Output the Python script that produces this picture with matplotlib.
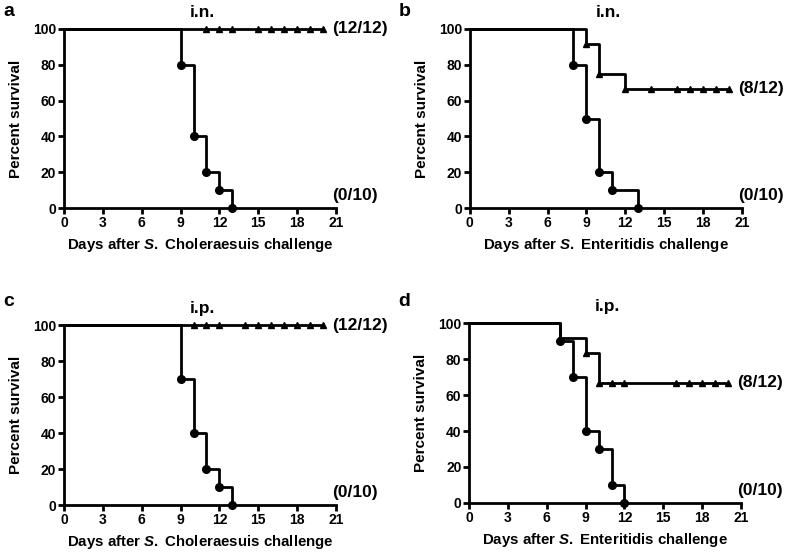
import matplotlib
matplotlib.use('Agg')
import matplotlib.pyplot as plt

plt.rcParams['font.family'] = 'Liberation Sans'
plt.rcParams['font.weight'] = 'bold'
plt.rcParams['mathtext.fontset'] = 'custom'
plt.rcParams['mathtext.it'] = 'Liberation Sans:italic:bold'
plt.rcParams['mathtext.rm'] = 'Liberation Sans:bold'

# panel a: S. Choleraesuis, i.n.
a_ctrl_t = [0, 9, 10, 11, 12, 13]
a_ctrl_s = [100, 80, 40, 20, 10, 0]
a_vac_t = [0, 20]
a_vac_s = [100, 100]
a_vac_mark_t = [11, 12, 13, 15, 16, 17, 18, 19, 20]
a_vac_mark_s = [100, 100, 100, 100, 100, 100, 100, 100, 100]

# panel b: S. Enteritidis, i.n.
b_ctrl_t = [0, 8, 9, 10, 11, 13]
b_ctrl_s = [100, 80, 50, 20, 10, 0]
b_vac_t = [0, 9, 10, 12, 20]
b_vac_s = [100, 91.7, 75, 66.7, 66.7]
b_vac_mark_t = [9, 10, 12, 14, 16, 17, 18, 19, 20]
b_vac_mark_s = [91.7, 75, 66.7, 66.7, 66.7, 66.7, 66.7, 66.7, 66.7]

# panel c: S. Choleraesuis, i.p.
c_ctrl_t = [0, 9, 10, 11, 12, 13]
c_ctrl_s = [100, 70, 40, 20, 10, 0]
c_vac_t = [0, 20]
c_vac_s = [100, 100]
c_vac_mark_t = [10, 11, 12, 14, 15, 16, 17, 18, 19, 20]
c_vac_mark_s = [100, 100, 100, 100, 100, 100, 100, 100, 100, 100]

# panel d: S. Enteritidis, i.p.
d_ctrl_t = [0, 7, 8, 9, 10, 11, 12]
d_ctrl_s = [100, 90, 70, 40, 30, 10, 0]
d_vac_t = [0, 7, 9, 10, 20]
d_vac_s = [100, 91.7, 83.3, 66.7, 66.7]
d_vac_mark_t = [7, 9, 10, 11, 12, 16, 17, 18, 19, 20]
d_vac_mark_s = [91.7, 83.3, 66.7, 66.7, 66.7, 66.7, 66.7, 66.7, 66.7, 66.7]


def survival_panel(rect, ctrl_t, ctrl_s, vac_t, vac_s, mark_t, mark_s,
                   letter, letter_x, letter_y, route, strain, vac_label, vac_y):
    ax = fig.add_axes(rect)
    lw = 2
    ax.step(vac_t, vac_s, where='post', color='black', lw=lw, clip_on=False, zorder=3)
    ax.plot(mark_t, mark_s, '^', color='black', ms=4.5, clip_on=False, zorder=4)
    ax.step(ctrl_t, ctrl_s, where='post', color='black', lw=lw, clip_on=False, zorder=3)
    ax.plot(ctrl_t[1:], ctrl_s[1:], 'o', color='black', ms=5.5, clip_on=False, zorder=4)

    ax.set_xlim(0, 21)
    ax.set_ylim(0, 100)
    ax.set_xticks(range(0, 22, 3))
    ax.set_yticks(range(0, 101, 20))
    for s in ['top', 'right']:
        ax.spines[s].set_visible(False)
    for s in ['left', 'bottom']:
        ax.spines[s].set_linewidth(lw)
    ax.tick_params(width=lw, length=4.5, labelsize=10, pad=1)
    for lab in ax.get_xticklabels() + ax.get_yticklabels():
        lab.set_fontweight('bold')

    ax.set_ylabel('Percent survival', fontsize=11, fontweight='bold', labelpad=7)
    ax.set_xlabel(f'Days after $\\mathit{{S.}}$ {strain} challenge', fontsize=10.8,
                  fontweight='bold', labelpad=4.5)
    ax.text(10.66, 109, route, ha='center', va='center', fontsize=12.5, fontweight='bold')
    ax.text(letter_x, letter_y, letter, ha='left', va='center', fontsize=14,
            fontweight='bold', clip_on=False)
    ax.text(20.7, vac_y, vac_label, ha='left', va='center', fontsize=12.5,
            fontweight='bold', clip_on=False)
    ax.text(20.7, 7, '(0/10)', ha='left', va='center', fontsize=12.5,
            fontweight='bold', clip_on=False)
    return ax


fig = plt.figure(figsize=(7.87, 5.52), dpi=100)

survival_panel([0.0813, 0.623, 0.3456, 0.3245], a_ctrl_t, a_ctrl_s, a_vac_t, a_vac_s,
               a_vac_mark_t, a_vac_mark_s, 'a', -4.7, 110, 'i.n.', 'Choleraesuis', '(12/12)', 100)
survival_panel([0.597, 0.623, 0.3456, 0.3245], b_ctrl_t, b_ctrl_s, b_vac_t, b_vac_s,
               b_vac_mark_t, b_vac_mark_s, 'b', -5.5, 110, 'i.n.', 'Enteritidis', '(8/12)', 66.7)
survival_panel([0.0813, 0.0851, 0.3456, 0.326], c_ctrl_t, c_ctrl_s, c_vac_t, c_vac_s,
               c_vac_mark_t, c_vac_mark_s, 'c', -4.7, 113, 'i.p.', 'Choleraesuis', '(12/12)', 100)
survival_panel([0.596, 0.0888, 0.3456, 0.326], d_ctrl_t, d_ctrl_s, d_vac_t, d_vac_s,
               d_vac_mark_t, d_vac_mark_s, 'd', -5.5, 112, 'i.p.', 'Enteritidis', '(8/12)', 66.7)

fig.savefig('out.png', dpi=100)
